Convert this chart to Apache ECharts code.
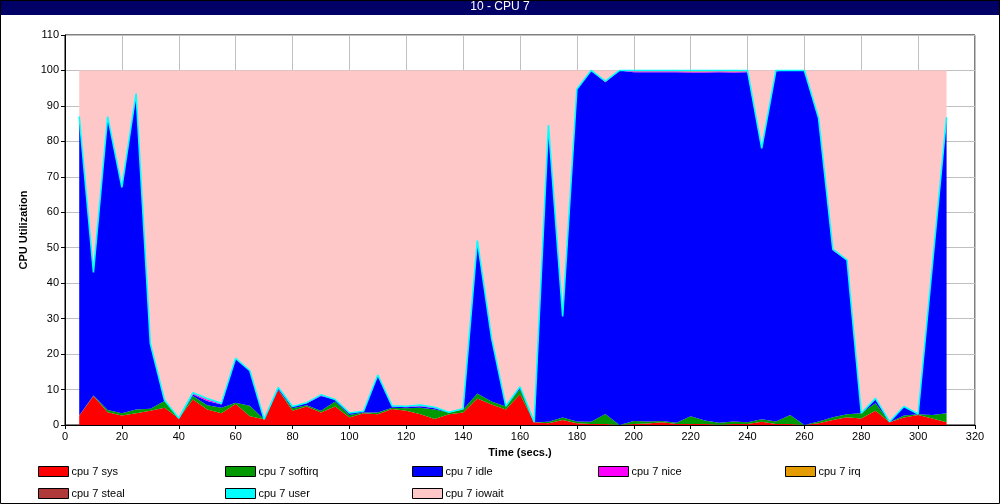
<!DOCTYPE html>
<html><head><meta charset="utf-8">
<script src="https://cdn.jsdelivr.net/npm/echarts@6/dist/echarts.min.js"></script>
<style>html,body{margin:0;padding:0;background:#fff}#c{width:1000px;height:504px}</style>
</head><body><div id="c"></div>
<script>
// x categories (seconds), labelled every 20 s
const categories = [0,5,10,15,20,25,30,35,40,45,50,55,60,65,70,75,80,85,90,95,100,105,110,115,120,125,130,135,140,145,150,155,160,165,170,175,180,185,190,195,200,205,210,215,220,225,230,235,240,245,250,255,260,265,270,275,280,285,290,295,300,305,310,315,320];
// samples at t = 5 .. 310
const times = [5,10,15,20,25,30,35,40,45,50,55,60,65,70,75,80,85,90,95,100,105,110,115,120,125,130,135,140,145,150,155,160,165,170,175,180,185,190,195,200,205,210,215,220,225,230,235,240,245,250,255,260,265,270,275,280,285,290,295,300,305,310];
const sys = [2.6,8.2,3.6,2.7,3.3,4.0,4.9,1.9,7.2,4.4,3.3,5.9,2.5,1.6,9.9,4.0,5.2,3.5,5.2,2.1,3.3,3.0,4.5,4.0,3.0,1.7,3.0,3.5,7.5,5.8,4.4,8.7,0.8,0.5,1.4,0.5,0.3,0.3,0,0.3,0.4,0.8,0.3,0.3,0.3,0.1,0.3,0.3,0.9,0.3,0.3,0,0.5,1.4,2.2,1.8,4.0,0.8,2.1,2.8,1.8,0.8];
const softirq = [0.1,0.1,0.6,0.6,1.1,0.6,1.9,0,1.0,1.2,1.6,0.4,2.9,0,0,0.7,0.4,0.5,1.4,0.7,0.2,0.5,0.4,0.7,1.9,2.7,0.5,0.9,1.4,0.8,0.8,1.4,0,0.4,0.7,0.5,0.6,2.8,0,0.8,0.6,0.3,0.3,2.2,1.0,0.5,0.7,0.5,0.7,0.7,2.5,0,0.5,0.8,0.8,1.5,2.1,0,0.6,0.2,1.0,2.5];
const idle = [84.3,34.7,82.8,63.7,89.1,18.4,0.2,0,0.4,1.2,0.9,12.5,9.9,0,0.7,0.5,0.5,4.2,0.6,0.6,0.4,10.6,0.3,0.3,0.4,0.3,0.1,0,43.1,17.9,0.1,0.7,0,83.7,28.5,93.7,99.1,93.6,100,98.4,98.5,98.4,98.9,96.9,98.1,98.9,98.4,98.7,76.4,98.8,97.2,100,85.5,47.0,43.5,0,1.1,0.1,2.5,0.1,42.2,83.5];
const nice = [0,0,0,0,0,0,0,0,0.3,0.4,0.3,0,0,0,0,0,0.2,0.3,0,0,0,0,0.2,0.3,0.3,0.3,0,0.2,0,0,0,0,0,0,0,0,0,0.3,0,0.3,0.3,0.3,0.3,0.3,0.3,0.3,0.3,0.3,0,0.2,0,0,0,0.4,0,0,0.3,0,0,0,0,0];
const irq = [0,0,0,0,0,0,0,0,0.2,0.3,0,0,0,0,0,0,0,0,0,0,0,0,0,0,0,0,0,0,0,0,0,0,0,0,0,0,0,0,0,0.2,0.2,0.2,0.2,0.3,0.3,0.2,0.3,0.2,0,0,0,0,0,0,0,0,0,0,0,0,0,0];
const steal = [0,0,0,0,0,0,0,0,0,0,0,0,0,0,0,0,0,0,0,0,0,0,0,0,0,0,0,0,0,0,0,0,0,0,0,0,0,0,0,0,0,0,0,0,0,0,0,0,0,0,0,0,0,0,0,0,0,0,0,0,0,0];
const user = [0,0,0,0,0,0,0,0,0,0,0,0,0,0,0,0,0,0,0,0,0,0,0,0,0,0,0,0,0,0,0,0,0,0,0,0,0,0,0,0,0,0,0,0,0,0,0,0,0,0,0,0,0,0,0,0,0,0,0,0,0,0];
const iowait = [13,57,13,33,6.5,77,93,98.1,90.9,92.5,93.9,81.2,84.7,98.4,89.4,94.8,93.7,91.5,92.8,96.6,96.1,85.9,94.6,94.7,94.4,95.0,96.4,95.4,48,75.5,94.7,89.2,99.2,15.4,69.4,5.3,0,3,0,0,0,0,0,0,0,0,0,0,22,0,0,0,13.5,50.4,53.5,96.7,92.5,99.1,94.8,96.9,55,13.2];

const seriesDefs = [
  ['cpu 7 sys', sys, '#ff0000'],
  ['cpu 7 softirq', softirq, '#009900'],
  ['cpu 7 idle', idle, '#0000ff'],
  ['cpu 7 nice', nice, '#ff00ff'],
  ['cpu 7 irq', irq, '#e59c00'],
  ['cpu 7 steal', steal, '#b03a3a'],
  ['cpu 7 user', user, '#00ffff'],
  ['cpu 7 iowait', iowait, '#ffc8c8']
];
const font = 'Liberation Sans, Arial, sans-serif';
const chart = echarts.init(document.getElementById('c'), null, {renderer:'canvas'});
const series = seriesDefs.map(([name, arr, color]) => {
  const map = {};
  times.forEach((t,i)=>{ map[t] = arr[i]; });
  return {
    name, type:'line', stack:'cpu', symbol:'none', smooth:false, connectNulls:false,
    data: categories.map(c => (c in map) ? map[c] : null),
    itemStyle:{color},
    lineStyle: name==='cpu 7 user' ? {color:'#00ffff', width:1.6} : {width:0},
    areaStyle:{color, opacity:1},
    z: name==='cpu 7 user' ? 3 : 2
  };
});
const legendX = [38, 225, 412, 598, 785, 38, 225, 412];
const legendY = [466, 466, 466, 466, 466, 488, 488, 488];
const legends = seriesDefs.map((d,i)=>({
  icon:'rect', itemWidth:30, itemHeight:10, itemGap:0,
  itemStyle:{borderColor:'#000', borderWidth:1},
  textStyle:{fontFamily:font, fontSize:11, color:'#000', padding:[0,0,0,-2]},
  selectedMode:false, orient:'horizontal', left:legendX[i], top:legendY[i], padding:0,
  data:[d[0]]
}));
chart.setOption({
  animation:false,
  backgroundColor:'#fff',
  graphic:[
    {type:'rect', shape:{x:0.5,y:0.5,width:999,height:503}, style:{fill:'none', stroke:'#000', lineWidth:1}, z:100},
    {type:'rect', shape:{x:0,y:0,width:1000,height:15}, style:{fill:'#000066'}, z:99},
    {type:'text', left:'center', top:1, style:{text:'10 - CPU 7', fill:'#fff', font:'12px '+font}, z:101}
  ],
  grid:{left:65, right:25, top:35, bottom:79, show:true, borderColor:'#000', borderWidth:1, backgroundColor:'transparent'},
  xAxis:{type:'category', data:categories, boundaryGap:false,
    name:'Time (secs.)', nameLocation:'middle', nameGap:22,
    nameTextStyle:{fontFamily:font, fontSize:11, fontWeight:'bold', color:'#000'},
    axisLine:{lineStyle:{color:'#000'}},
    axisTick:{length:4, interval:3, lineStyle:{color:'#000'}},
    axisLabel:{fontFamily:font, fontSize:11, color:'#000', margin:6, interval:3},
    splitLine:{show:true, interval:3, lineStyle:{color:'#c0c0c0', width:1}}},
  yAxis:{type:'value', min:0, max:110, interval:10,
    name:'CPU Utilization', nameLocation:'middle', nameGap:34, nameRotate:90,
    nameTextStyle:{fontFamily:font, fontSize:11, fontWeight:'bold', color:'#000'},
    axisLine:{show:true, lineStyle:{color:'#000'}}, axisTick:{show:true, length:4, lineStyle:{color:'#000'}},
    axisLabel:{fontFamily:font, fontSize:11, color:'#000', margin:6},
    splitLine:{show:true, lineStyle:{color:'#c0c0c0', width:1}}},
  legend: legends,
  series
});
</script></body></html>
